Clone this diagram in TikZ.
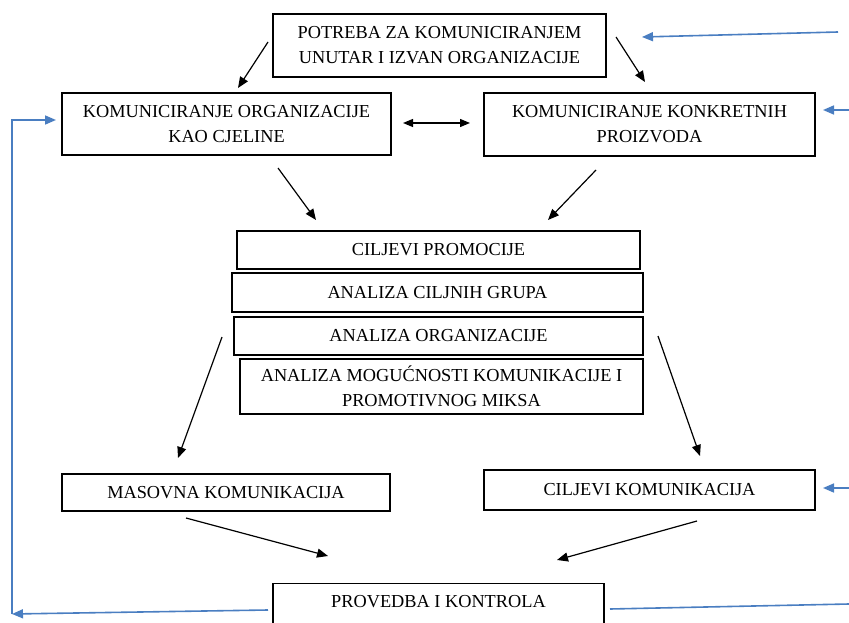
\documentclass[tikz,border=0pt]{standalone}
\usepackage{fontspec}
\setmainfont{Liberation Serif}
\usetikzlibrary{arrows.meta}
\definecolor{lnblue}{RGB}{74,126,193}
\tikzset{
  box/.style={draw=black, line width=1.2pt, align=center, inner sep=0pt,
    font=\fontsize{18.3}{25}\selectfont},
  arr/.style={line width=1.2pt, -{Triangle[length=11pt,width=9pt]}},
  darr/.style={line width=1.2pt, {Triangle[length=10pt,width=8pt]}-{Triangle[length=10pt,width=8pt]}},
  barr/.style={draw=lnblue, line width=1.6pt, -{Triangle[length=11pt,width=9pt]}},
  bline/.style={draw=lnblue, line width=1.6pt}
}
\begin{document}
\begin{tikzpicture}[x=1pt,y=-1pt]
\useasboundingbox (0,0) rectangle (849,623);
\clip (0,0) rectangle (849,623);
\node[box, minimum width=333pt, minimum height=63pt] (top) at (439.5,45.5) {POTREBA ZA KOMUNICIRANJEM\\UNUTAR I IZVAN ORGANIZACIJE};
\node[box, minimum width=329pt, minimum height=62pt] (koo) at (226.5,124) {KOMUNICIRANJE ORGANIZACIJE\\KAO CJELINE};
\node[box, minimum width=331pt, minimum height=63pt] (kkp) at (649.5,124.5) {KOMUNICIRANJE KONKRETNIH\\PROIZVODA};
\node[box, minimum width=403pt, minimum height=38pt] (cp) at (438.5,250) {CILJEVI PROMOCIJE};
\node[box, minimum width=411pt, minimum height=39pt] (acg) at (437.5,292.5) {ANALIZA CILJNIH GRUPA};
\node[box, minimum width=409pt, minimum height=38pt] (ao) at (438.5,336) {ANALIZA ORGANIZACIJE};
\node[box, minimum width=403pt, minimum height=55pt] (amk) at (441.5,386.5) {ANALIZA MOGUĆNOSTI KOMUNIKACIJE I\\PROMOTIVNOG MIKSA};
\node[box, minimum width=328pt, minimum height=37pt] (mas) at (226,492.5) {MASOVNA KOMUNIKACIJA};
\node[box, minimum width=331pt, minimum height=40pt] (ck) at (649.5,490) {CILJEVI KOMUNIKACIJA};
\node[box, minimum width=331pt, minimum height=44pt, anchor=north] (prov) at (438.5,583) {\raisebox{0pt}[\height][\dimexpr\depth+8pt\relax]{PROVEDBA I KONTROLA}};
% black arrow end points
\coordinate (a1s) at (268,42);  \coordinate (a1e) at (238,88);
\coordinate (a2s) at (616,37);  \coordinate (a2e) at (645,82);
\coordinate (d1s) at (403,123); \coordinate (d1e) at (470,123);
\coordinate (a3s) at (278,168); \coordinate (a3e) at (316,220);
\coordinate (a4s) at (596,170); \coordinate (a4e) at (548,220);
\coordinate (a5s) at (222,337); \coordinate (a5e) at (178,458);
\coordinate (a6s) at (658,336); \coordinate (a6e) at (700,456);
\coordinate (a7s) at (186,518); \coordinate (a7e) at (328,556);
\coordinate (a8s) at (697,521); \coordinate (a8e) at (557,560);
\draw[arr] (a1s) -- (a1e);
\draw[arr] (a2s) -- (a2e);
\draw[darr] (d1s) -- (d1e);
\draw[arr] (a3s) -- (a3e);
\draw[arr] (a4s) -- (a4e);
\draw[arr] (a5s) -- (a5e);
\draw[arr] (a6s) -- (a6e);
\draw[arr] (a7s) -- (a7e);
\draw[arr] (a8s) -- (a8e);
% blue feedback lines
\coordinate (b1s) at (838,32);  \coordinate (b1e) at (642,37);
\coordinate (b2s) at (849,110); \coordinate (b2e) at (823,110);
\coordinate (b3s) at (849,488); \coordinate (b3e) at (823,488);
\coordinate (b4s) at (268,610); \coordinate (b4c) at (12,614);
\coordinate (b5s) at (12,614);  \coordinate (b5c) at (12,120); \coordinate (b5e) at (56,120);
\coordinate (b6s) at (610,609); \coordinate (b6e) at (849,604);
\draw[barr] (b1s) -- (b1e);
\draw[barr] (b2s) -- (b2e);
\draw[barr] (b3s) -- (b3e);
\draw[barr] (b4s) -- (b4c);
\draw[barr] (b5s) -- (b5c) -- (b5e);
\draw[bline] (b6s) -- (b6e);
\end{tikzpicture}
\end{document}
